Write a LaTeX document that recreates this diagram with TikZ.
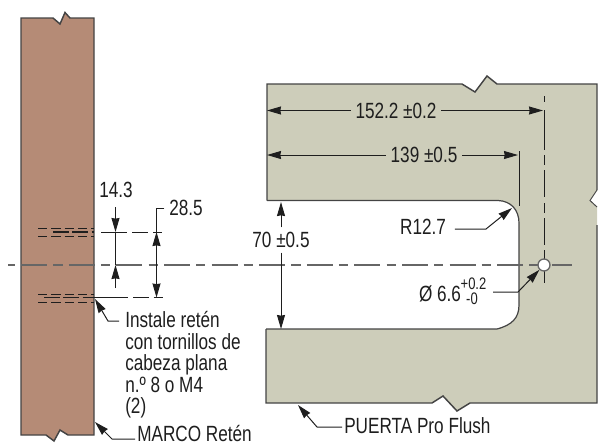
\documentclass[tikz,border=0pt]{standalone}
\usepackage{fontspec}
\setmainfont[FakeStretch=0.78]{Liberation Sans}
\usetikzlibrary{arrows.meta}
\definecolor{marcocol}{HTML}{B58B76}
\definecolor{puertacol}{HTML}{CDCDBA}
\definecolor{edgecol}{HTML}{444444}
\definecolor{axiscol}{HTML}{666666}
\definecolor{dimcol}{HTML}{1E1E1E}
\tikzset{
  outline/.style={draw=edgecol, line width=1.1pt, line join=miter},
  dimline/.style={draw=dimcol, line width=0.75pt},
  hidden/.style={draw=dimcol, line width=0.75pt, dash pattern=on 9pt off 3pt},
  axis/.style={draw=axiscol, line width=1.3pt},
  lbl/.style={inner sep=3.5pt, text=dimcol, font=\fontsize{16.5}{16.5}\selectfont},
  lblnote/.style={lbl, anchor=base west, inner sep=0pt},
  tol/.style={inner sep=0pt, text=dimcol, font=\fontsize{12.5}{12.5}\selectfont},
}
\begin{document}
\begin{tikzpicture}[x=0.75pt, y=-0.75pt, >={Stealth[length=10.5pt, width=6pt, inset=0.5pt]}]
\useasboundingbox (0,0) rectangle (598,443);

% marco
\fill[marcocol] (21,18) -- (53,18) -- (60,24) -- (65,12.5) -- (70,18) -- (94,18)
  -- (94,435) -- (68,435) -- (60,430) -- (54,441) -- (46,435) -- (21,435) -- cycle;
\draw[outline] (21,18) -- (53,18) -- (60,24) -- (65,12.5) -- (70,18) -- (94,18)
  -- (94,435) -- (68,435) -- (60,430) -- (54,441) -- (46,435) -- (21,435) -- cycle;

% puerta
\fill[puertacol] (267,84) -- (462,84) -- (475,92) -- (487,76) -- (497,84) -- (597,84)
  -- (597,190) -- (590,200.5) -- (597,207) -- (597,403) -- (470,403) -- (457,411) -- (443,396) -- (432,403)
  -- (266,403) -- (266,329) -- (497,329) .. controls (512,325) and (519,318) .. (519,305)
  -- (519,223) .. controls (519,210) and (511,201) .. (498,200.5) -- (267,200.5) -- cycle;
\draw[outline] (267,200.5) -- (267,84) -- (462,84) -- (475,92) -- (487,76) -- (497,84) -- (597,84)
  -- (597,190);
\draw[outline] (597,225) -- (597,403) -- (470,403) -- (457,411) -- (443,396) -- (432,403) -- (266,403) -- (266,329);
\draw[outline, line width=0.7pt] (597,190) -- (590,200.5) -- (597,207);
\draw[outline, line width=0.9pt] (267,200.5) -- (498,200.5) .. controls (511,201) and (519,210) .. (519,223)
  -- (519,305) .. controls (519,318) and (512,325) .. (497,329) -- (266,329);

% ejes
\draw[axis, dash pattern=on 19.5pt off 4.6pt on 7pt off 4.6pt, dash phase=25.8pt] (8,265) -- (538,265);
\draw[axis] (552,265) -- (572,265);
\foreach \ya/\yb in {96/102, 110/150, 155/165, 170/197, 203/213, 218/245, 250/283}
  \draw[dimline] (544,\ya) -- (544,\yb);
\node[circle, draw=axiscol, fill=white, line width=1pt, minimum size=9pt, inner sep=0pt] (hole) at (544,265) {};

% tornillos
\draw[hidden, dash pattern=on 7pt off 3pt] (38,228) -- (94,228);
\draw[hidden, dash pattern=on 7pt off 3pt] (38,236) -- (94,236);
\draw[hidden, line width=1pt, dash pattern=on 12pt off 2.5pt] (53,232) -- (94,232);
\draw[hidden, dash pattern=on 7pt off 3pt] (38,294) -- (94,294);
\draw[hidden, dash pattern=on 7pt off 3pt] (38,302) -- (94,302);
\draw[hidden, line width=1pt, dash pattern=on 12pt off 2.5pt] (44,297.5) -- (94,297.5);

% cotas marco
\coordinate (upA) at (115.5,232);
\coordinate (loA) at (115.5,265);
\coordinate (upB) at (156.5,232);
\coordinate (loB) at (156.5,297.5);
\coordinate (bendB) at (156.5,208);
\draw[dimline, dash pattern=on 19.5pt off 4pt on 12pt off 3.5pt on 7pt off 3pt] (101,232) -- (166,232);
\draw[dimline] (94,297.5) -- (128,297.5);
\draw[dimline, dash pattern=on 12pt off 3.5pt] (133,297.5) -- (163,297.5);
\node[lbl] (dimA) at (116,190) {14.3};
\node[lbl] (dimB) at (186,208) {28.5};
\coordinate (tailA) at (115.5,207);
\coordinate (tailC) at (115.5,288);
\draw[dimline, ->] (tailA) -- (upA);
\draw[dimline] (upA) -- (loA);
\draw[dimline, ->] (tailC) -- (loA);
\draw[dimline] (dimB.west) -- (bendB) -- (upB);
\draw[dimline, <->] (upB) -- (loB);

% cotas puerta
\coordinate (leftA) at (267,110.5);
\coordinate (rightA) at (543,110.5);
\coordinate (leftB) at (267,155);
\coordinate (rightB) at (518,155);
\coordinate (witA) at (519.5,151);
\coordinate (witB) at (519.5,206);
\coordinate (topC) at (281,202);
\coordinate (botC) at (281,329);
\node[lbl] (dimD) at (396,110.5) {152.2 ±0.2};
\node[lbl] (dimE) at (424,155) {139 ±0.5};
\node[lbl] (dimF) at (281,240) {70 ±0.5};
\draw[dimline, ->] (dimD) -- (leftA);
\draw[dimline, ->] (dimD) -- (rightA);
\draw[dimline, ->] (dimE) -- (leftB);
\draw[dimline, ->] (dimE) -- (rightB);
\draw[dimline] (witA) -- (witB);
\draw[dimline, ->] (dimF) -- (topC);
\draw[dimline, ->] (dimF) -- (botC);

% radio y agujero
\node[lbl] (dimR) at (423,227) {R12.7};
\coordinate (kneeR) at (486,229);
\coordinate (tipR) at (512,208);
\draw[dimline, ->] (dimR.east |- kneeR) ++(3pt,0) -- (kneeR) -- (tipR);
\node[lbl, inner sep=0pt] (dimH) at (440,294) {Ø 6.6};
\node[tol] (tolU) at (473.5,284) {+0.2};
\node[tol] (tolD) at (472,299) {-0};
\coordinate (startH) at (493,292);
\coordinate (kneeH) at (518,292);
\draw[dimline, ->] (startH) -- (kneeH) -- (hole);

% notas
\node[lblnote] (noteA) at (125,327) {Instale retén};
\node[lblnote] (noteB) at (125,349) {con tornillos de};
\node[lblnote] (noteC) at (125,370) {cabeza plana};
\node[lblnote] (noteD) at (125,392) {n.º 8 o M4};
\node[lblnote] (noteE) at (125,413) {(2)};
\node[lblnote] (noteF) at (137,441) {MARCO Retén};
\node[lblnote] (noteG) at (344,433) {PUERTA Pro Flush};
\coordinate (kneeA) at (108,321);
\coordinate (tipA) at (95,299);
\coordinate (kneeF) at (112,439);
\coordinate (tipF) at (95,422);
\coordinate (kneeG) at (317,427);
\coordinate (tipG) at (298,405);
\draw[dimline, ->] (119,321) -- (kneeA) -- (tipA);
\draw[dimline, ->] (135,439) -- (kneeF) -- (tipF);
\draw[dimline, ->] (342,427) -- (kneeG) -- (tipG);
\end{tikzpicture}
\end{document}
